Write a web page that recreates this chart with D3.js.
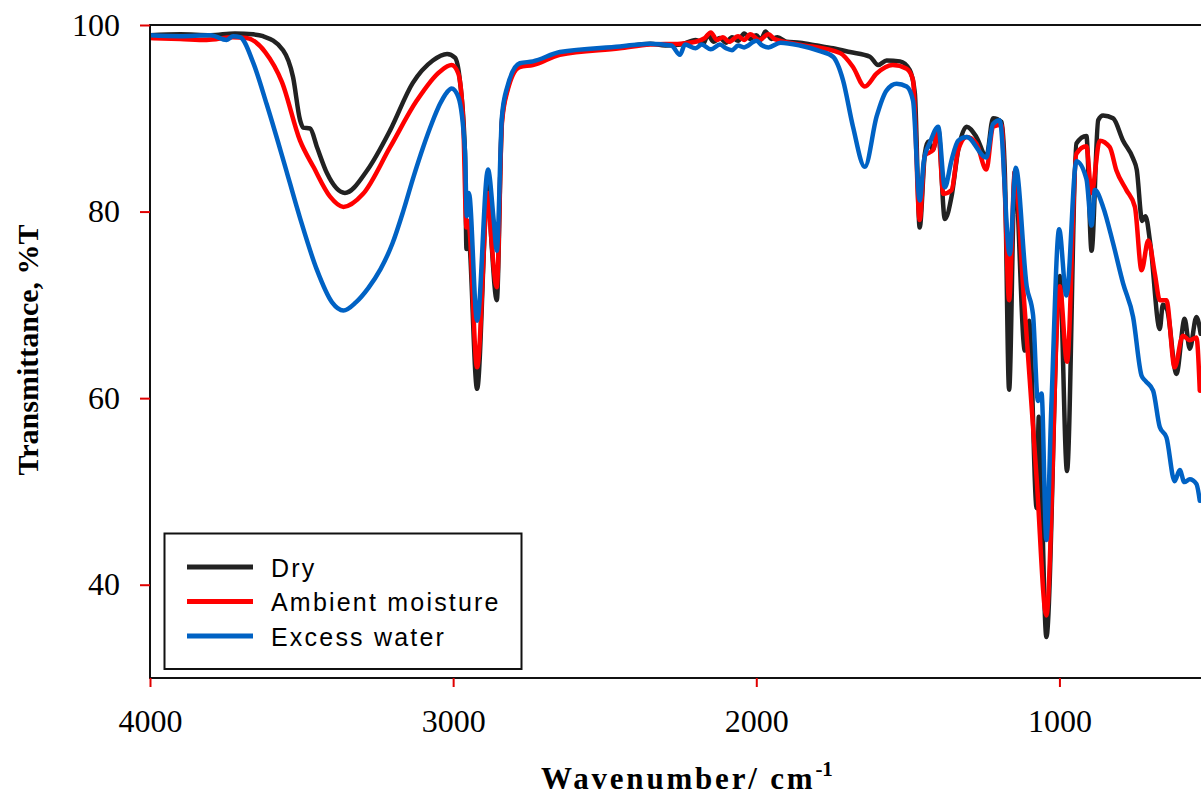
<!DOCTYPE html>
<html>
<head>
<meta charset="utf-8">
<script src="https://cdn.jsdelivr.net/npm/d3@7"></script>
<style>
  body { margin: 0; background: #fff; }
  svg { display: block; }
</style>
</head>
<body>
<svg width="1201" height="798"></svg>
<script>
// axis ticks
const wnTicks = [4000, 3000, 2000, 1000];
const tTicks = [40, 60, 80, 100];

// legend / series
const seriesNames = ["Dry", "Ambient moisture", "Excess water"];
const seriesColors = ["#222222", "#ff0000", "#0062c4"];

// [wavenumber, %T]
const dry = [
  [4000, 98.9], [3900, 99.0], [3800, 98.9], [3720, 99.1], [3660, 99.0], [3627, 98.8],
  [3561, 97.3], [3528, 94.4], [3505, 89.8], [3495, 89.0], [3472, 88.9], [3449, 86.9],
  [3416, 84.1], [3357, 82.0], [3284, 84.4], [3208, 88.7], [3133, 93.8], [3067, 96.2],
  [3020, 96.9], [2994, 96.5], [2978, 94.1], [2961, 86.3], [2956, 76.0], [2950, 77.5],
  [2921, 61.0], [2885, 83.0], [2874, 77.0], [2856, 70.5], [2839, 89.8], [2822, 93.0],
  [2780, 95.7], [2737, 95.9], [2648, 97.0], [2450, 97.6], [2350, 98.0], [2300, 97.8],
  [2250, 97.9], [2200, 98.4], [2175, 98.0], [2160, 98.9], [2140, 98.2], [2120, 98.6],
  [2100, 98.1], [2080, 98.7], [2060, 98.3], [2040, 99.1], [2020, 98.5], [2000, 98.9],
  [1985, 98.4], [1970, 99.3], [1950, 98.5], [1930, 98.7], [1900, 98.2], [1856, 98.1],
  [1800, 97.8], [1747, 97.5], [1691, 97.1], [1625, 96.6], [1598, 95.7], [1570, 96.2],
  [1526, 96.1], [1494, 95.2], [1477, 92.7], [1461, 78.3], [1444, 86.2], [1433, 87.5],
  [1417, 86.6], [1400, 88.9], [1378, 79.2], [1356, 81.6], [1334, 86.6], [1306, 89.1],
  [1274, 88.0], [1241, 85.9], [1219, 90.0], [1191, 89.6], [1180, 84.1], [1166, 60.9],
  [1147, 84.3], [1114, 65.1], [1100, 68.3], [1075, 48.2], [1068, 58.0], [1043, 34.4],
  [999, 73.1], [975, 52.2], [944, 87.3], [911, 88.1], [894, 75.8], [872, 89.8],
  [856, 90.3], [823, 90.0], [790, 87.6], [757, 85.7], [745, 84.5], [727, 79.0],
  [716, 79.5], [700, 76.5], [669, 67.4], [659, 70.0], [645, 69.5], [614, 62.6],
  [587, 68.5], [570, 65.3], [548, 68.7], [534, 66.9]
];

const ambient = [
  [4000, 98.6], [3900, 98.5], [3813, 98.4], [3726, 98.7], [3681, 98.6], [3620, 97.1],
  [3565, 93.9], [3505, 87.6], [3461, 84.8], [3406, 81.6], [3362, 80.5], [3297, 81.9],
  [3208, 86.9], [3120, 91.9], [3044, 95.0], [3005, 95.7], [2983, 94.8], [2967, 89.8],
  [2956, 78.3], [2950, 79.0], [2921, 63.3], [2885, 82.0], [2875, 77.5], [2856, 71.9],
  [2839, 89.5], [2822, 92.8], [2780, 95.5], [2737, 95.7], [2648, 96.8], [2450, 97.5],
  [2350, 97.9], [2250, 98.0], [2200, 98.2], [2170, 98.6], [2150, 99.2], [2130, 98.4],
  [2110, 98.7], [2090, 98.2], [2060, 98.8], [2040, 98.4], [2020, 99.0], [1990, 98.4],
  [1960, 99.0], [1940, 98.5], [1920, 98.3], [1856, 97.9], [1724, 97.0], [1681, 95.5],
  [1642, 93.4], [1603, 94.8], [1550, 95.7], [1504, 95.3], [1483, 94.1], [1461, 79.1],
  [1444, 86.0], [1417, 86.6], [1400, 88.7], [1383, 81.9], [1356, 82.3], [1334, 86.6],
  [1306, 88.0], [1274, 87.3], [1241, 84.5], [1219, 89.1], [1191, 89.3], [1180, 82.0],
  [1166, 70.5], [1147, 84.3], [1120, 72.0], [1098, 62.0], [1075, 51.3], [1043, 36.7],
  [999, 72.0], [975, 63.9], [944, 86.2], [911, 87.0], [894, 82.0], [867, 87.6],
  [834, 86.9], [812, 84.4], [779, 82.3], [751, 80.5], [729, 73.7], [707, 76.9],
  [685, 73.3], [669, 70.5], [647, 70.5], [620, 63.3], [593, 66.7], [570, 66.2],
  [548, 66.5], [537, 60.8]
];

const excess = [
  [4000, 98.9], [3901, 98.8], [3800, 98.9], [3747, 98.4], [3726, 98.8], [3703, 98.7],
  [3660, 96.0], [3615, 91.5], [3560, 85.5], [3505, 79.3], [3450, 73.8], [3400, 70.3],
  [3362, 69.4], [3320, 70.3], [3280, 71.8], [3240, 73.8], [3200, 76.6], [3165, 80.0],
  [3130, 83.8], [3099, 86.9], [3070, 89.5], [3044, 91.5], [3020, 92.8], [3005, 93.2],
  [2983, 92.3], [2961, 86.5], [2955, 79.5], [2948, 82.0], [2921, 68.3], [2885, 84.5],
  [2866, 79.0], [2856, 75.8], [2839, 90.2], [2822, 93.3], [2780, 95.9], [2737, 96.1],
  [2648, 97.1], [2450, 97.7], [2350, 98.0], [2280, 97.8], [2252, 96.8], [2235, 97.9],
  [2200, 97.5], [2180, 97.9], [2150, 97.4], [2120, 97.9], [2100, 97.5], [2080, 97.3],
  [2060, 97.8], [2040, 97.6], [2000, 98.3], [1980, 97.8], [1960, 97.6], [1920, 98.1],
  [1856, 97.8], [1790, 97.2], [1747, 96.6], [1714, 94.1], [1681, 89.1], [1642, 84.8],
  [1603, 90.2], [1570, 93.0], [1537, 93.7], [1504, 93.4], [1483, 91.9], [1461, 81.2],
  [1447, 85.5], [1426, 87.5], [1400, 89.1], [1378, 82.6], [1356, 85.5], [1334, 87.6],
  [1306, 88.0], [1241, 85.8], [1219, 89.4], [1197, 89.8], [1164, 75.4], [1144, 84.7],
  [1108, 72.0], [1087, 68.9], [1071, 59.7], [1059, 60.5], [1043, 44.8], [1026, 59.7],
  [1001, 78.1], [977, 71.0], [944, 85.4], [911, 83.5], [894, 78.5], [883, 82.3],
  [856, 80.5], [823, 76.6], [790, 72.3], [757, 68.7], [729, 62.4], [715, 61.8],
  [691, 60.8], [669, 56.9], [647, 55.8], [620, 51.1], [603, 52.3], [588, 51.0],
  [570, 51.3], [548, 50.8], [537, 49.0]
];

const allSeries = [dry, ambient, excess];

const svg = d3.select("svg");
const serif = '"Liberation Serif", "Times New Roman", serif';
const sans = '"Liberation Sans", Arial, sans-serif';

// scales (plot runs past the right edge of the window, like the original)
const x = d3.scaleLinear().domain([4000, 500]).range([150, 1211]);
const y = d3.scaleLinear().domain([30, 100]).range([678, 25]);

svg.append("defs").append("clipPath").attr("id", "plot")
  .append("rect")
  .attr("x", x(4000)).attr("y", y(100))
  .attr("width", x(500) - x(4000)).attr("height", y(30) - y(100));

// curves
const line = d3.line()
  .x(d => x(d[0]))
  .y(d => y(d[1]))
  .curve(d3.curveMonotoneX);

svg.append("g")
  .attr("clip-path", "url(#plot)")
  .selectAll("path")
  .data(allSeries)
  .enter()
  .append("path")
  .attr("d", line)
  .attr("fill", "none")
  .attr("stroke", (d, i) => seriesColors[i])
  .attr("stroke-width", 4.5)
  .attr("stroke-linejoin", "round")
  .attr("stroke-linecap", "round");

// frame
svg.append("path")
  .attr("d", `M${x(500)},${y(100)}H${x(4000)}V${y(30)}H${x(500)}`)
  .attr("fill", "none")
  .attr("stroke", "#111")
  .attr("stroke-width", 2);

// y axis
const yAxis = svg.append("g")
  .attr("transform", `translate(${x(4000)},0)`)
  .call(d3.axisLeft(y).tickValues(tTicks).tickSize(10).tickPadding(20));
yAxis.select(".domain").remove();
yAxis.selectAll(".tick line").attr("stroke", "#e00000").attr("stroke-width", 2);
yAxis.selectAll(".tick text")
  .attr("font-family", serif).attr("font-size", 32).attr("fill", "#000");

// x axis
const xAxis = svg.append("g")
  .attr("transform", `translate(0,${y(30)})`)
  .call(d3.axisBottom(x).tickValues(wnTicks).tickFormat(d3.format("d"))
    .tickSize(9).tickPadding(22));
xAxis.select(".domain").remove();
xAxis.selectAll(".tick line").attr("stroke", "#e00000").attr("stroke-width", 2);
xAxis.selectAll(".tick text")
  .attr("font-family", serif).attr("font-size", 32).attr("fill", "#000");

// axis titles
const xt = svg.append("text")
  .attr("x", 687).attr("y", 789)
  .attr("text-anchor", "middle")
  .attr("font-family", serif).attr("font-weight", "bold")
  .attr("font-size", 31).attr("letter-spacing", 2.8)
  .text("Wavenumber/ cm");
xt.append("tspan")
  .attr("dy", -13).attr("font-size", 21).attr("letter-spacing", 0)
  .text("-1");

svg.append("text")
  .attr("transform", "translate(38,350) rotate(-90)")
  .attr("text-anchor", "middle")
  .attr("font-family", serif).attr("font-weight", "bold")
  .attr("font-size", 30)
  .text("Transmittance, %T");

// legend
const legend = svg.append("g");
legend.append("rect")
  .attr("x", 164.5).attr("y", 533.5)
  .attr("width", 357).attr("height", 135.5)
  .attr("fill", "#fff").attr("stroke", "#111").attr("stroke-width", 2);

const items = legend.selectAll("g.item")
  .data(seriesNames)
  .enter()
  .append("g")
  .attr("class", "item")
  .attr("transform", (d, i) => `translate(0,${567 + i * 34.5})`);

items.append("line")
  .attr("x1", 187).attr("x2", 253)
  .attr("stroke", (d, i) => seriesColors[i])
  .attr("stroke-width", 5);

items.append("text")
  .attr("x", 271).attr("y", 9.5)
  .attr("font-family", sans).attr("font-size", 25)
  .attr("letter-spacing", 2.2)
  .text(d => d);
</script>
</body>
</html>
